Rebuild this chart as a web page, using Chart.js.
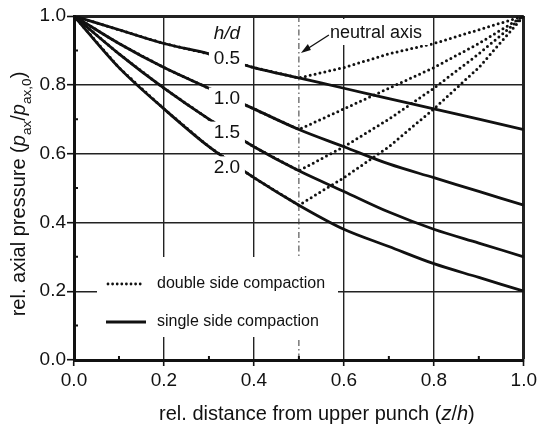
<!DOCTYPE html>
<html>
<head>
<meta charset="utf-8">
<script src="https://cdn.jsdelivr.net/npm/chart.js@4.4.0/dist/chart.umd.min.js"></script>
<style>
html, body { margin: 0; padding: 0; background: #fff; }
#wrap { width: 540px; height: 428px; }
</style>
</head>
<body>
<div id="wrap"><canvas id="pressGraph"></canvas></div>
<script>
// relative distance from upper punch (z/h)
var zValues = [0.0, 0.1, 0.2, 0.3, 0.4, 0.5, 0.6, 0.7, 0.8, 0.9, 1.0];
var hdNames = ['0.5', '1.0', '1.5', '2.0'];

// single side compaction, one array per h/d
var single05 = [1.00, 0.96, 0.92, 0.89, 0.85, 0.82, 0.79, 0.76, 0.73, 0.70, 0.67];
var single10 = [1.00, 0.92, 0.85, 0.79, 0.73, 0.67, 0.62, 0.57, 0.53, 0.49, 0.45];
var single15 = [1.00, 0.89, 0.79, 0.70, 0.62, 0.55, 0.49, 0.43, 0.38, 0.34, 0.30];
var single20 = [1.00, 0.85, 0.73, 0.62, 0.53, 0.45, 0.38, 0.33, 0.28, 0.24, 0.20];

// double side compaction
var double05 = [1.00, 0.96, 0.92, 0.89, 0.85, 0.82, 0.85, 0.89, 0.92, 0.96, 1.00];
var double10 = [1.00, 0.92, 0.85, 0.79, 0.73, 0.67, 0.73, 0.79, 0.85, 0.92, 1.00];
var double15 = [1.00, 0.89, 0.79, 0.70, 0.62, 0.55, 0.62, 0.70, 0.79, 0.89, 1.00];
var double20 = [1.00, 0.85, 0.73, 0.62, 0.53, 0.45, 0.53, 0.62, 0.73, 0.85, 1.00];

// where the h/d labels sit on the curves
var labelZ = 0.34;
var labelP = [0.875, 0.760, 0.661, 0.560];
var neutralZ = 0.5;
var minorTicks = [0.1, 0.3, 0.5, 0.7, 0.9];

var FONT = '"Liberation Sans", Arial, Helvetica, sans-serif';

function pts(ys) {
    return zValues.map(function(z, i) { return {x: z, y: ys[i]}; });
}

function solidSet(ys) {
    return {data: pts(ys), borderColor: '#111', borderWidth: 2.8, pointRadius: 0,
            cubicInterpolationMode: 'monotone', fill: false};
}
function dottedSet(ys) {
    return {data: pts(ys), borderColor: '#111', borderWidth: 3, pointRadius: 0,
            borderDash: [0, 5], borderCapStyle: 'round', tension: 0, fill: false};
}

// draw a list of text pieces: {t, it (italic), sub}
function richText(c, parts, x, y, size, align) {
    var w = 0;
    parts.forEach(function(p) {
        var s = p.sub ? size * 0.68 : size;
        c.font = (p.it ? 'italic ' : '') + s + 'px ' + FONT;
        p.w = c.measureText(p.t).width;
        w += p.w;
    });
    var cx = align === 'center' ? x - w / 2 : x;
    c.textBaseline = 'alphabetic';
    c.textAlign = 'left';
    parts.forEach(function(p) {
        var s = p.sub ? size * 0.68 : size;
        c.font = (p.it ? 'italic ' : '') + s + 'px ' + FONT;
        c.fillText(p.t, cx, p.sub ? y + size * 0.28 : y);
        cx += p.w;
    });
}

var extras = {
    id: 'extras',
    beforeDatasetsDraw: function(chart) {
        var c = chart.ctx, a = chart.chartArea;
        var xn = chart.scales.x.getPixelForValue(neutralZ);
        c.save();
        c.strokeStyle = '#333';
        c.lineWidth = 1;
        c.setLineDash([6, 3, 1.5, 3]);
        c.beginPath();
        c.moveTo(xn, a.top);
        c.lineTo(xn, a.bottom);
        c.stroke();
        c.restore();
    },
    afterDatasetsDraw: function(chart) {
        var c = chart.ctx, a = chart.chartArea;
        var sx = chart.scales.x, sy = chart.scales.y;
        c.save();
        c.fillStyle = '#111';

        // h/d labels with white boxes cutting the curves
        var lx = sx.getPixelForValue(labelZ);
        c.font = '19px ' + FONT;
        c.textAlign = 'center';
        c.textBaseline = 'middle';
        labelP.forEach(function(p, i) {
            var ly = sy.getPixelForValue(p);
            c.fillStyle = '#fff';
            c.fillRect(lx - 18, ly - 11, 36, 22);
            c.fillStyle = '#111';
            c.fillText(hdNames[i], lx, ly);
        });
        c.font = 'italic 19px ' + FONT;
        c.fillText('h/d', lx, a.top + 18);

        // neutral axis note
        var xn = sx.getPixelForValue(neutralZ);
        c.fillStyle = '#fff';
        c.fillRect(xn + 27, a.top + 3, 104, 26);
        c.fillStyle = '#111';
        c.font = '18px ' + FONT;
        c.textAlign = 'left';
        c.fillText('neutral axis', xn + 31, a.top + 17);
        c.strokeStyle = '#111';
        c.lineWidth = 1.4;
        c.beginPath();
        c.moveTo(xn + 30, a.top + 19);
        c.lineTo(xn + 5, a.top + 35);
        c.stroke();
        c.beginPath();
        c.moveTo(xn + 2, a.top + 37);
        c.lineTo(xn + 9, a.top + 28);
        c.lineTo(xn + 12, a.top + 34);
        c.closePath();
        c.fill();

        // legend
        var bx = a.left + 23, by = a.bottom - 103;
        c.fillStyle = '#fff';
        c.fillRect(bx, by, 241, 80);
        c.strokeStyle = '#111';
        c.lineWidth = 2.8;
        c.lineCap = 'round';
        c.setLineDash([0, 4.6]);
        c.beginPath();
        c.moveTo(bx + 11, by + 27);
        c.lineTo(bx + 47, by + 27);
        c.stroke();
        c.setLineDash([]);
        c.lineCap = 'butt';
        c.beginPath();
        c.moveTo(bx + 9, by + 65);
        c.lineTo(bx + 49, by + 65);
        c.stroke();
        c.fillStyle = '#111';
        c.font = '16px ' + FONT;
        c.textBaseline = 'middle';
        c.fillText('double side compaction', bx + 60, by + 27);
        c.fillText('single side compaction', bx + 60, by + 65);

        // minor ticks on the inside of both axes
        c.lineWidth = 2;
        c.beginPath();
        minorTicks.forEach(function(v) {
            var px = sx.getPixelForValue(v), py = sy.getPixelForValue(v);
            c.moveTo(px, a.bottom);
            c.lineTo(px, a.bottom - 4);
            c.moveTo(a.left, py);
            c.lineTo(a.left + 4, py);
        });
        c.stroke();
        c.restore();
    },
    afterDraw: function(chart) {
        var c = chart.ctx, a = chart.chartArea;
        c.save();
        c.fillStyle = '#111';
        richText(c, [{t: 'rel. distance from upper punch ('}, {t: 'z', it: true}, {t: '/'},
                     {t: 'h', it: true}, {t: ')'}], (a.left + a.right) / 2 + 18, 420, 20, 'center');
        c.translate(25, (a.top + a.bottom) / 2 + 6);
        c.rotate(-Math.PI / 2);
        richText(c, [{t: 'rel. axial pressure ('}, {t: 'p', it: true}, {t: 'ax', sub: true}, {t: '/'},
                     {t: 'p', it: true}, {t: 'ax,0', sub: true}, {t: ')'}], 0, 0, 20, 'center');
        c.restore();
    }
};

function gridWidth(ctx) {
    return Math.abs(ctx.tick.value - 1) < 1e-6 ? 3 : 1.4;
}

var ctx = document.getElementById('pressGraph').getContext('2d');
var config = {
    type: 'line',
    data: {
        datasets: [
            dottedSet(double05), dottedSet(double10), dottedSet(double15), dottedSet(double20),
            solidSet(single05), solidSet(single10), solidSet(single15), solidSet(single20)
        ]
    },
    plugins: [extras],
    options: {
        responsive: true,
        maintainAspectRatio: false,
        animation: false,
        layout: {padding: {top: 16, right: 16, left: 0, bottom: 0}},
        plugins: {legend: {display: false}, tooltip: {enabled: false}},
        scales: {
            x: {
                type: 'linear', min: 0, max: 1,
                afterFit: function(s) { s.height = 68; },
                ticks: {stepSize: 0.2, color: '#111', padding: 3,
                        font: {family: FONT, size: 19},
                        callback: function(v) { return v.toFixed(1); }},
                grid: {color: '#222', lineWidth: gridWidth, tickLength: 6, tickWidth: 1.6, tickColor: '#111'},
                border: {color: '#111', width: 3}
            },
            y: {
                min: 0, max: 1,
                afterFit: function(s) { s.width = 74; },
                ticks: {stepSize: 0.2, color: '#111', padding: 1,
                        font: {family: FONT, size: 19},
                        callback: function(v) { return v.toFixed(1); }},
                grid: {color: '#222', lineWidth: gridWidth, tickLength: 7, tickWidth: 1.6, tickColor: '#111'},
                border: {color: '#111', width: 3}
            }
        }
    }
};
var chart = new Chart(ctx, config);
</script>
</body>
</html>
